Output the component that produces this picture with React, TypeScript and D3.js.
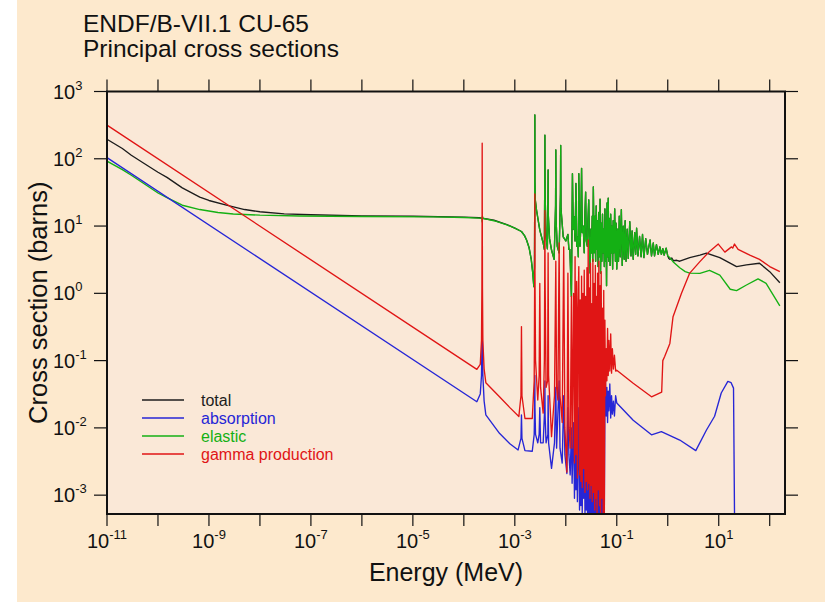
import React from 'react';
import * as d3 from 'd3';

// chart text
const titleLines = ['ENDF/B-VII.1 CU-65', 'Principal cross sections'];
const xTitle = 'Energy (MeV)';
const yTitle = 'Cross section (barns)';

// decade exponents for ticks and labels
const xTickExps = [-11, -10, -9, -8, -7, -6, -5, -4, -3, -2, -1, 0, 1, 2];
const xLabelExps = [-11, -9, -7, -5, -3, -1, 1];
const yTickExps = [-3, -2, -1, 0, 1, 2, 3];

// [energy MeV, cross section barns]
const totalLow = [
  [1e-11, 195], [2e-11, 142], [3e-11, 113], [5e-11, 88], [1e-10, 63], [1.5e-10, 53],
  [3e-10, 37], [6.6e-10, 27], [1e-9, 24], [2.2e-9, 20.5], [5e-9, 17.6], [1e-8, 16.3],
  [3e-8, 15.2], [1e-7, 14.7], [1e-6, 14.2], [1e-5, 14.0], [1e-4, 13.6], [2e-4, 13.3],
  [3.9e-4, 12.2], [7e-4, 10.5],
];

const elasticLow = [
  [1e-11, 92], [2e-11, 69], [3e-11, 57], [5e-11, 44], [1e-10, 31], [1.5e-10, 26.5],
  [3e-10, 20.4], [6.6e-10, 17.6], [1.5e-9, 15.9], [3e-9, 15.1], [1e-8, 14.5], [6e-8, 14.1],
  [1e-6, 13.85], [2.5e-5, 13.7], [1e-4, 13.4], [2e-4, 13.1], [2.26e-4, 12.9], [2.29e-4, 11.5],
  [2.31e-4, 14], [2.4e-4, 13], [3.9e-4, 12], [7e-4, 10.4],
];

// resolved resonance range: total sits right under elastic here
const elasticResolved = [
  [1e-3, 9.3], [1.35e-3, 8.3], [1.55e-3, 7.2], [1.7e-3, 6.2], [1.9e-3, 4.8], [2.1e-3, 3.2],
  [2.25e-3, 2.0], [2.36e-3, 1.26], [2.43e-3, 2.5], [2.455e-3, 20], [2.47e-3, 447], [2.485e-3, 45],
  [2.53e-3, 24], [2.66e-3, 17.4], [3.09e-3, 8.7], [3.6e-3, 5.6], [3.8e-3, 4.5], [3.86e-3, 40],
  [3.89e-3, 224], [3.93e-3, 30], [4.1e-3, 6.9], [4.35e-3, 4.6], [4.47e-3, 25], [4.5e-3, 68],
  [4.55e-3, 14], [4.8e-3, 6.5], [5.25e-3, 4.4], [5.9e-3, 3.2], [6.3e-3, 20], [6.37e-3, 135],
  [6.45e-3, 12], [6.8e-3, 5], [7.4e-3, 4], [7.85e-3, 30], [7.94e-3, 158], [8.05e-3, 18],
  [8.9e-3, 6.9], [1.0e-2, 6], [1.1e-2, 7.5], [1.15e-2, 4.5], [1.2e-2, 4.5], [1.29e-2, 0.9],
  [1.35e-2, 60], [1.4e-2, 9], [1.45e-2, 13.8], [1.52e-2, 6], [1.58e-2, 43], [1.64e-2, 5],
  [1.7e-2, 6.9], [1.76e-2, 3.5], [1.8e-2, 60], [1.85e-2, 7], [1.9e-2, 5], [1.96e-2, 9],
  [2.04e-2, 72], [2.1e-2, 8], [2.2e-2, 10], [2.3e-2, 4], [2.38e-2, 16], [2.45e-2, 32],
  [2.52e-2, 6], [2.65e-2, 5], [2.72e-2, 12], [2.82e-2, 24.5], [2.9e-2, 6], [3.0e-2, 2.0],
  [3.1e-2, 9], [3.2e-2, 4], [3.3e-2, 14], [3.38e-2, 3], [3.47e-2, 38], [3.6e-2, 4],
  [3.75e-2, 14], [3.85e-2, 3], [3.95e-2, 20], [4.1e-2, 4.5], [4.2e-2, 12], [4.3e-2, 2.5],
  [4.45e-2, 16], [4.6e-2, 3.5], [4.7e-2, 25], [4.8e-2, 2.0], [4.95e-2, 11], [5.1e-2, 3],
  [5.25e-2, 15], [5.4e-2, 4], [5.55e-2, 9], [5.7e-2, 2.5], [5.85e-2, 18], [6.0e-2, 3],
  [6.15e-2, 12], [6.3e-2, 1.3], [6.45e-2, 22], [6.6e-2, 3.5], [6.8e-2, 26], [7.0e-2, 3],
  [7.2e-2, 13], [7.4e-2, 2.6], [7.6e-2, 15], [7.8e-2, 4], [8.0e-2, 10], [8.3e-2, 2.3],
  [8.5e-2, 12], [8.8e-2, 4], [9.1e-2, 18], [9.4e-2, 3], [9.7e-2, 11], [0.1, 2.3],
  [0.104, 9], [0.108, 3], [0.112, 14], [0.117, 3.5], [0.123, 17.5], [0.128, 2.6],
  [0.134, 10], [0.14, 3.2], [0.146, 12], [0.152, 3], [0.16, 9], [0.168, 3.3],
  [0.18, 11.6], [0.19, 3.6], [0.2, 8.5], [0.21, 3.2], [0.225, 8], [0.235, 3.8],
  [0.245, 9.3], [0.26, 3.6], [0.28, 7], [0.3, 3.5], [0.32, 7.5], [0.34, 3.4],
  [0.37, 6.5], [0.4, 3.8], [0.45, 6.2], [0.48, 3.6], [0.52, 5.6], [0.55, 3.6],
  [0.6, 5.3], [0.65, 3.8], [0.7, 4.9], [0.75, 3.8], [0.8, 4.6], [0.85, 3.7],
  [0.93, 4.7], [1.0, 3.6],
];

const totalHigh = [
  [1.05, 3.3], [1.1, 3.2], [1.2, 3.35], [1.3, 3.05], [1.5, 3.1], [1.72, 3.0], [2.7, 3.4],
  [4.27, 3.7], [5.75, 3.95], [10.5, 3.4], [22.4, 2.5], [35, 2.65], [63, 2.8], [100, 2.1],
  [158, 1.44],
];

const elasticHigh = [
  [1.1, 3.4], [1.3, 2.9], [1.72, 2.4], [2.2, 2.1], [2.7, 2.0], [4.27, 1.98], [6.6, 2.2],
  [10.5, 1.87], [16.8, 1.15], [22.4, 1.1], [35, 1.33], [59, 1.64], [85, 1.41], [158, 0.65],
];

const absorption = [
  [1e-11, 104], [1.8e-4, 0.0245], [2.1e-4, 0.032], [2.22e-4, 0.06], [2.26e-4, 0.15],
  [2.29e-4, 0.4], [2.32e-4, 0.15], [2.36e-4, 0.06], [2.5e-4, 0.025], [2.7e-4, 0.0156],
  [5e-4, 0.0083], [8e-4, 0.0058], [1.16e-3, 0.0047], [1.32e-3, 0.007], [1.35e-3, 0.0156],
  [1.38e-3, 0.007], [1.58e-3, 0.0046], [2.2e-3, 0.0045], [2.4e-3, 0.008], [2.455e-3, 0.025],
  [2.47e-3, 0.06], [2.485e-3, 0.02], [2.55e-3, 0.008], [2.82e-3, 0.006], [3.0e-3, 0.008],
  [3.09e-3, 0.02], [3.2e-3, 0.006], [3.6e-3, 0.006], [3.86e-3, 0.02], [3.89e-3, 0.05],
  [3.93e-3, 0.015], [4.1e-3, 0.006], [4.45e-3, 0.008], [4.5e-3, 0.03], [4.6e-3, 0.006],
  [5.25e-3, 0.0025], [6.0e-3, 0.006], [6.37e-3, 0.04], [6.6e-3, 0.005], [7.4e-3, 0.05],
  [7.7e-3, 0.005], [8.5e-3, 0.003], [9.1e-3, 0.03], [9.6e-3, 0.004], [1.05e-2, 0.0021],
  [1.1e-2, 0.02], [1.15e-2, 0.004], [1.22e-2, 0.002], [1.29e-2, 0.01], [1.33e-2, 0.0015],
  [1.42e-2, 0.012], [1.48e-2, 0.0009], [1.52e-2, 0.025], [1.58e-2, 0.0012], [1.63e-2, 0.012],
  [1.69e-2, 0.0008], [1.8e-2, 0.02], [1.86e-2, 0.0006], [1.92e-2, 0.006], [1.98e-2, 0.0007],
  [2.04e-2, 0.015], [2.1e-2, 0.0005], [2.17e-2, 0.008], [2.24e-2, 0.0009], [2.3e-2, 0.018],
  [2.38e-2, 0.0004], [2.45e-2, 0.007], [2.52e-2, 0.0006], [2.6e-2, 0.02], [2.67e-2, 0.0004],
  [2.75e-2, 0.05], [2.82e-2, 0.0005], [2.9e-2, 0.009], [2.98e-2, 0.0003], [3.05e-2, 0.022],
  [3.14e-2, 0.0005], [3.22e-2, 0.006], [3.3e-2, 0.0003], [3.4e-2, 0.025], [3.5e-2, 0.0004],
  [3.6e-2, 0.011], [3.7e-2, 0.0002], [3.8e-2, 0.02], [3.9e-2, 0.0003], [4.0e-2, 0.007],
  [4.1e-2, 0.0002], [4.2e-2, 0.016], [4.32e-2, 0.0004], [4.45e-2, 0.024], [4.58e-2, 0.0003],
  [4.7e-2, 0.01], [4.82e-2, 0.0002], [4.95e-2, 0.017], [5.1e-2, 0.0003], [5.25e-2, 0.005],
  [5.4e-2, 0.0002], [5.55e-2, 0.009], [5.7e-2, 0.0003], [5.85e-2, 0.02], [6.0e-2, 0.05],
  [6.2e-2, 0.015], [6.4e-2, 0.04], [6.6e-2, 0.012], [6.8e-2, 0.035], [7.0e-2, 0.018],
  [7.3e-2, 0.045], [7.6e-2, 0.014], [7.9e-2, 0.03], [8.2e-2, 0.016], [8.6e-2, 0.025],
  [9.0e-2, 0.015], [9.5e-2, 0.03], [0.1, 0.0235], [0.21, 0.013], [0.48, 0.0079],
  [0.75, 0.0088], [1.72, 0.0066], [3.55, 0.0046], [5.75, 0.0093], [8.3, 0.0149],
  [11.2, 0.033], [15.1, 0.049], [17.5, 0.047], [19.5, 0.039], [20.4, 1e-6], [158, 1e-6],
];

const gammaProduction = [
  [1e-11, 316], [1.8e-4, 0.074], [2.1e-4, 0.088], [2.22e-4, 0.2], [2.26e-4, 1.2],
  [2.28e-4, 15], [2.29e-4, 170], [2.30e-4, 15], [2.32e-4, 1.2], [2.36e-4, 0.2],
  [2.5e-4, 0.075], [2.7e-4, 0.047], [5e-4, 0.029], [8e-4, 0.02], [1.2e-3, 0.0148],
  [1.32e-3, 0.03], [1.35e-3, 0.32], [1.38e-3, 0.03], [1.58e-3, 0.0138], [2.2e-3, 0.0138],
  [2.4e-3, 0.05], [2.455e-3, 2], [2.47e-3, 30], [2.485e-3, 2], [2.55e-3, 0.1],
  [2.82e-3, 0.026], [3.0e-3, 0.06], [3.09e-3, 1.4], [3.2e-3, 0.04], [3.6e-3, 0.0166],
  [3.8e-3, 0.1], [3.86e-3, 2], [3.89e-3, 17], [3.93e-3, 1.5], [4.1e-3, 0.04],
  [4.4e-3, 0.05], [4.5e-3, 4], [4.6e-3, 0.06], [5.25e-3, 0.0074], [6.0e-3, 0.03],
  [6.37e-3, 3], [6.6e-3, 0.04], [7.0e-3, 0.026], [7.4e-3, 5.6], [7.7e-3, 0.03],
  [8.5e-3, 0.012], [9.1e-3, 4.9], [9.6e-3, 0.01], [1.05e-2, 0.0022], [1.1e-2, 2.0],
  [1.15e-2, 0.01], [1.22e-2, 0.005], [1.29e-2, 0.9], [1.33e-2, 0.005], [1.42e-2, 1.0],
  [1.48e-2, 0.003], [1.52e-2, 3.5], [1.58e-2, 0.004], [1.63e-2, 1.5], [1.69e-2, 0.0018],
  [1.74e-2, 0.6], [1.8e-2, 2.5], [1.86e-2, 0.002], [1.92e-2, 0.8], [1.98e-2, 0.0016],
  [2.04e-2, 1.8], [2.1e-2, 0.0013], [2.17e-2, 1.0], [2.24e-2, 0.0025], [2.3e-2, 2.2],
  [2.38e-2, 0.0011], [2.45e-2, 0.9], [2.52e-2, 0.0016], [2.6e-2, 2.4], [2.67e-2, 0.0012],
  [2.75e-2, 6.2], [2.82e-2, 0.0015], [2.9e-2, 1.2], [2.98e-2, 0.0009], [3.05e-2, 2.8],
  [3.14e-2, 0.0014], [3.22e-2, 0.7], [3.3e-2, 0.0008], [3.4e-2, 3.2], [3.5e-2, 0.0011],
  [3.6e-2, 1.4], [3.7e-2, 0.0006], [3.8e-2, 2.6], [3.9e-2, 0.0009], [4.0e-2, 0.9],
  [4.1e-2, 0.0004], [4.2e-2, 2.0], [4.32e-2, 0.0012], [4.45e-2, 3.0], [4.58e-2, 0.0007],
  [4.7e-2, 1.3], [4.82e-2, 0.0004], [4.95e-2, 2.1], [5.1e-2, 0.0009], [5.25e-2, 0.6],
  [5.4e-2, 0.0004], [5.55e-2, 1.1], [5.7e-2, 0.0005], [5.85e-2, 0.4], [6.0e-2, 0.03],
  [6.2e-2, 0.15], [6.4e-2, 0.05], [6.6e-2, 0.3], [6.8e-2, 0.06], [7.0e-2, 0.2],
  [7.3e-2, 0.07], [7.6e-2, 0.25], [7.9e-2, 0.065], [8.2e-2, 0.15], [8.6e-2, 0.075],
  [9.0e-2, 0.12], [9.5e-2, 0.07], [0.1, 0.072], [0.21, 0.046], [0.48, 0.029],
  [0.76, 0.034], [0.8, 0.1], [0.87, 0.115], [1.1, 0.18], [1.27, 0.45], [1.86, 1.0],
  [2.7, 2.0], [4.27, 2.96], [6.6, 4.2], [9.8, 5.4], [13.2, 4.1], [17.8, 4.9], [18.8, 4.7],
  [20.4, 5.4], [24, 4.5], [40.7, 3.7], [63, 3.2], [100, 2.5], [158, 2.1],
];

const series = [
  { name: 'total', color: '#1c1c1c', points: [...totalLow, ...elasticResolved, ...totalHigh] },
  { name: 'elastic', color: '#14b014', points: [...elasticLow, ...elasticResolved, ...elasticHigh] },
  { name: 'absorption', color: '#2626d6', points: absorption },
  { name: 'gamma production', color: '#e01515', points: gammaProduction },
];
const legendOrder = ['total', 'absorption', 'elastic', 'gamma production'];

const W = 827;
const H = 602;
const left = 107;
const right = 785;
const top = 91.5;
const bottom = 514;
const font = '"Liberation Sans", Arial, Helvetica, sans-serif';

const Pow = ({ x, y, exp, anchor }) => (
  <text x={x} y={y} textAnchor={anchor} fontSize={20} fontFamily={font} fill="#111">
    10<tspan dy={-9} fontSize={13}>{exp}</tspan>
  </text>
);

export default function App() {
  const x = d3.scaleLog().domain([1e-11, Math.pow(10, 2.3)]).range([left, right]);
  const y = d3.scaleLog().domain([Math.pow(10, -3.28), 1e3]).range([bottom, top]).clamp(true);
  const line = d3.line().x(d => x(d[0])).y(d => y(d[1]));

  return (
    <svg width={W} height={H} style={{ position: 'absolute', left: 0, top: 0 }}>
      <rect x={17} y={0} width={808} height={H} fill="#fde9cd" />
      <defs>
        <clipPath id="plot">
          <rect x={left} y={top} width={right - left} height={bottom - top} />
        </clipPath>
      </defs>
      <rect x={left} y={top} width={right - left} height={bottom - top} fill="#fae8d7" />

      {titleLines.map((t, i) => (
        <text key={t} x={83} y={32 + i * 25} fontSize={24.5} fontFamily={font} fill="#111">{t}</text>
      ))}

      <g clipPath="url(#plot)">
        {series.map(s => (
          <path key={s.name} d={line(s.points)} fill="none" stroke={s.color} strokeWidth={1.35} strokeLinejoin="round" />
        ))}
      </g>

      {/* ticks */}
      <g stroke="#111" strokeWidth={1.2}>
        {xTickExps.map(e => (
          <g key={e}>
            <line x1={x(10 ** e)} x2={x(10 ** e)} y1={bottom} y2={bottom + 12} />
            <line x1={x(10 ** e)} x2={x(10 ** e)} y1={top} y2={top - 12} />
          </g>
        ))}
        {yTickExps.map(e => (
          <g key={e}>
            <line x1={left} x2={left - 13} y1={y(10 ** e)} y2={y(10 ** e)} />
            <line x1={right} x2={right + 13} y1={y(10 ** e)} y2={y(10 ** e)} />
          </g>
        ))}
      </g>
      <rect x={left} y={top} width={right - left} height={bottom - top} fill="none" stroke="#111" strokeWidth={2} />

      {xLabelExps.map(e => (
        <Pow key={e} x={x(10 ** e)} y={548} exp={String(e)} anchor="middle" />
      ))}
      {yTickExps.map(e => (
        <Pow key={e} x={53} y={y(10 ** e) + 7} exp={String(e)} anchor="start" />
      ))}

      <text x={(left + right) / 2} y={581} textAnchor="middle" fontSize={25} fontFamily={font} fill="#111">{xTitle}</text>
      <text transform={`translate(47, ${(top + bottom) / 2}) rotate(-90)`} textAnchor="middle" fontSize={25.5} fontFamily={font} fill="#111">{yTitle}</text>

      {legendOrder.map((name, i) => {
        const s = series.find(d => d.name === name);
        const ly = 400 + i * 18;
        return (
          <g key={name}>
            <line x1={142} x2={184} y1={ly} y2={ly} stroke={s.color} strokeWidth={1.3} />
            <text x={201} y={ly + 6} fontSize={16} fontFamily={font} fill={s.color}>{name}</text>
          </g>
        );
      })}
    </svg>
  );
}
